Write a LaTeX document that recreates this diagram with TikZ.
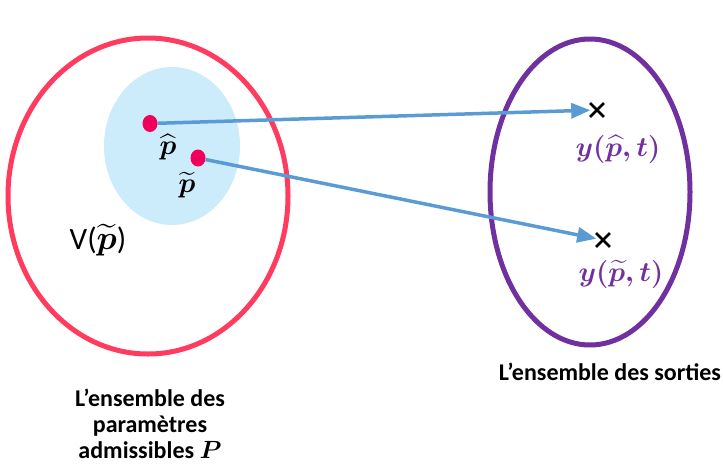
\documentclass[tikz,border=0pt]{standalone}
\usepackage{amsmath}
\usepackage{graphicx}
\usepackage{fontspec}
\setmainfont{Carlito}
\usetikzlibrary{shapes.geometric, shapes.misc, arrows}
\definecolor{cbred}{HTML}{FF3B5F}
\definecolor{cbpink}{HTML}{F0005A}
\definecolor{cbsky}{HTML}{CCEBFB}
\definecolor{cbpurple}{HTML}{7030A0}
\definecolor{cbarrow}{HTML}{5B9BD5}
\newcommand{\mathlbl}[1]{\scalebox{1.35}{$#1$}}
\tikzstyle{paramset} = [ellipse, minimum width=280pt, minimum height=316pt, draw=cbred, line width=5pt]
\tikzstyle{voisin} = [ellipse, minimum width=136pt, minimum height=158pt, fill=cbsky]
\tikzstyle{outset} = [ellipse, minimum width=200pt, minimum height=306pt, draw=cbpurple, line width=5pt]
\tikzstyle{point} = [ellipse, minimum width=15pt, minimum height=17pt, inner sep=0pt, fill=cbpink]
\tikzstyle{image} = [cross out, draw=black, minimum size=11pt, inner sep=0pt, line width=2.8pt]
\tikzstyle{label} = [font=\fontsize{20.74}{24}\selectfont, inner sep=0pt]
\tikzstyle{caption} = [font=\bfseries\fontsize{24}{26}\selectfont, align=center, inner sep=0pt]
\tikzstyle{arrow} = [line width=3.5pt, cbarrow, ->, >=triangle 45]

\begin{document}
\begin{tikzpicture}[x=1pt, y=-1pt]
\useasboundingbox (0,0) rectangle (723,464);

% ------------------------- sets -------------------------

% ----- neighbourhood
\node(V)[voisin] at (172,146) {};
% ----- admissible parameters
\node(P)[paramset] at (148,196) {};
% ----- outputs
\node(Y)[outset] at (590,192) {};

% ------------------------- points -------------------------

\node(p1)[point] at (150,123.5) {};
\node(p2)[point] at (198,158) {};
\node(y1)[image] at (597,110) {};
\node(y2)[image] at (603,240) {};

% ------------------------- arrows -------------------------

\draw[arrow] (p1) -- (y1);
\draw[arrow] (p2) -- (y2);

% ------------------------- labels -------------------------

\node(l1)[label] at (168,147) {\mathlbl{\widehat{\boldsymbol{p}}}};
\node(l2)[label] at (187,185) {\mathlbl{\widetilde{\boldsymbol{p}}}};
\node(l3)[label, font=\fontsize{31}{34}\selectfont] at (98,240) {V(\mathlbl{\widetilde{\boldsymbol{p}}})};
\node(l4)[label, text=cbpurple] at (618,149) {\mathlbl{\boldsymbol{y(\widehat{p},t)}}};
\node(l5)[label, text=cbpurple] at (621,274) {\mathlbl{\boldsymbol{y(\widetilde{p},t)}}};
\node(c1)[caption] at (610,372) {L’ensemble des sorties};
\node(c2)[caption] at (150,424) {L’ensemble des\\paramètres\\admissibles $\boldsymbol{P}$};

\end{tikzpicture}
\end{document}
